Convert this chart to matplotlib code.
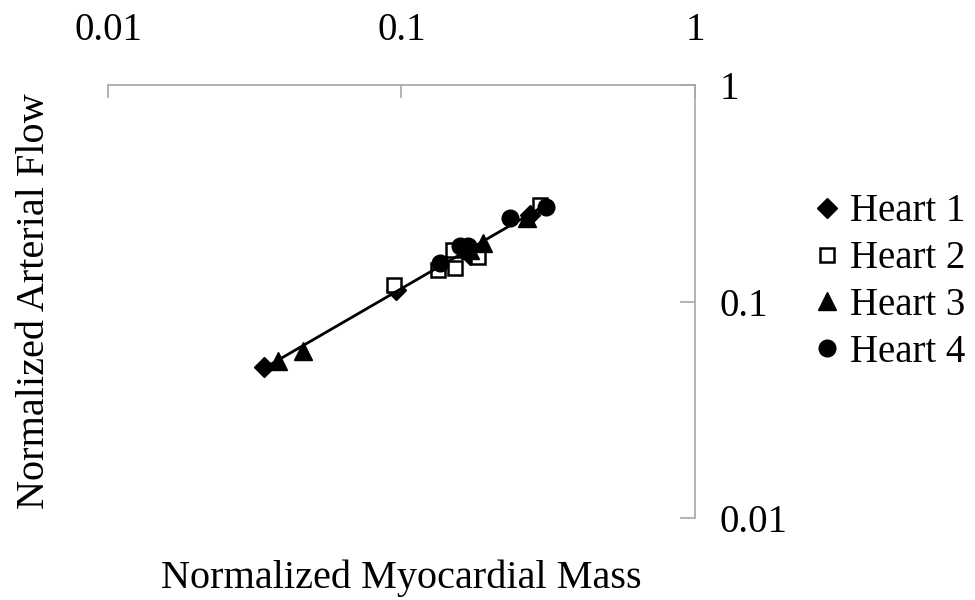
import numpy as np
import matplotlib
matplotlib.use("Agg")
import matplotlib.pyplot as plt
from matplotlib.ticker import FixedLocator, FixedFormatter, NullLocator

# ========================
# Data
# ========================
heart1_mass = [0.034, 0.096, 0.171, 0.274]
heart1_flow = [0.050, 0.113, 0.164, 0.251]

heart2_mass = [0.094, 0.133, 0.152, 0.150, 0.182, 0.296]
heart2_flow = [0.119, 0.140, 0.143, 0.173, 0.160, 0.279]

heart3_mass = [0.038, 0.046, 0.171, 0.190, 0.268]
heart3_flow = [0.053, 0.059, 0.173, 0.186, 0.243]

heart4_mass = [0.135, 0.158, 0.168, 0.234, 0.310]
heart4_flow = [0.151, 0.180, 0.180, 0.243, 0.273]

tick_values = [0.01, 0.1, 1]
tick_labels = ["0.01", "0.1", "1"]
series_names = ["Heart 1", "Heart 2", "Heart 3", "Heart 4"]

# ========================
# Figure setup
# ========================
plt.rcParams['font.family'] = ['Liberation Serif', 'DejaVu Serif']
grey = '#a6a6a6'

fig = plt.figure(figsize=(9.75, 6), dpi=100)
ax = fig.add_axes([108 / 975, 82 / 600, 587 / 975, 433 / 600])
ax.set_xscale('log')
ax.set_yscale('log')
ax.set_xlim(0.01, 1)
ax.set_ylim(0.01, 1)

# series markers
ax.plot(heart1_mass, heart1_flow, linestyle='none', marker='D', ms=10,
        color='black', label=series_names[0], zorder=3)
ax.plot(heart2_mass, heart2_flow, linestyle='none', marker='s', ms=10.5,
        markerfacecolor='white', markeredgecolor='black', markeredgewidth=1.8,
        label=series_names[1], zorder=3)
ax.plot(heart3_mass, heart3_flow, linestyle='none', marker='^', ms=12.5,
        color='black', label=series_names[2], zorder=3)
ax.plot(heart4_mass, heart4_flow, linestyle='none', marker='o', ms=12,
        color='black', label=series_names[3], zorder=3)

# power-law trend line through all points (linear fit in log-log)
all_x = np.array(heart1_mass + heart2_mass + heart3_mass + heart4_mass)
all_y = np.array(heart1_flow + heart2_flow + heart3_flow + heart4_flow)
slope, intercept = np.polyfit(np.log10(all_x), np.log10(all_y), 1)
fit_x = np.array([all_x.min(), all_x.max()])
fit_y = 10 ** (intercept + slope * np.log10(fit_x))
ax.plot(fit_x, fit_y, color='black', linewidth=2, zorder=4)

# ========================
# Axes styling
# ========================
for side in ['left', 'bottom']:
    ax.spines[side].set_visible(False)
for side in ['top', 'right']:
    ax.spines[side].set_color(grey)
    ax.spines[side].set_linewidth(1.2)

ax.xaxis.tick_top()
ax.yaxis.tick_right()
ax.xaxis.set_major_locator(FixedLocator(tick_values))
ax.xaxis.set_major_formatter(FixedFormatter(tick_labels))
ax.yaxis.set_major_locator(FixedLocator(tick_values))
ax.yaxis.set_major_formatter(FixedFormatter(tick_labels))
ax.xaxis.set_minor_locator(NullLocator())
ax.yaxis.set_minor_locator(NullLocator())
ax.tick_params(axis='x', direction='in', length=9, width=1.2, color=grey,
               labelsize=28, pad=26)
ax.tick_params(axis='y', direction='in', length=11, width=1.2, color=grey,
               labelsize=28, pad=18)

fig.text(0.035, (600 - 301) / 600, 'Normalized Arterial Flow', rotation=90,
         ha='center', va='center', fontsize=29)
fig.text(401 / 975, 1 - 578 / 600, 'Normalized Myocardial Mass',
         ha='center', va='center', fontsize=29)

leg = fig.legend(loc='center left', bbox_to_anchor=(796 / 975, 1 - 282 / 600),
                 frameon=False, fontsize=28, handlelength=0.6, handletextpad=0.3,
                 labelspacing=0.25, borderpad=0)

fig.savefig('out.png', dpi=100)
